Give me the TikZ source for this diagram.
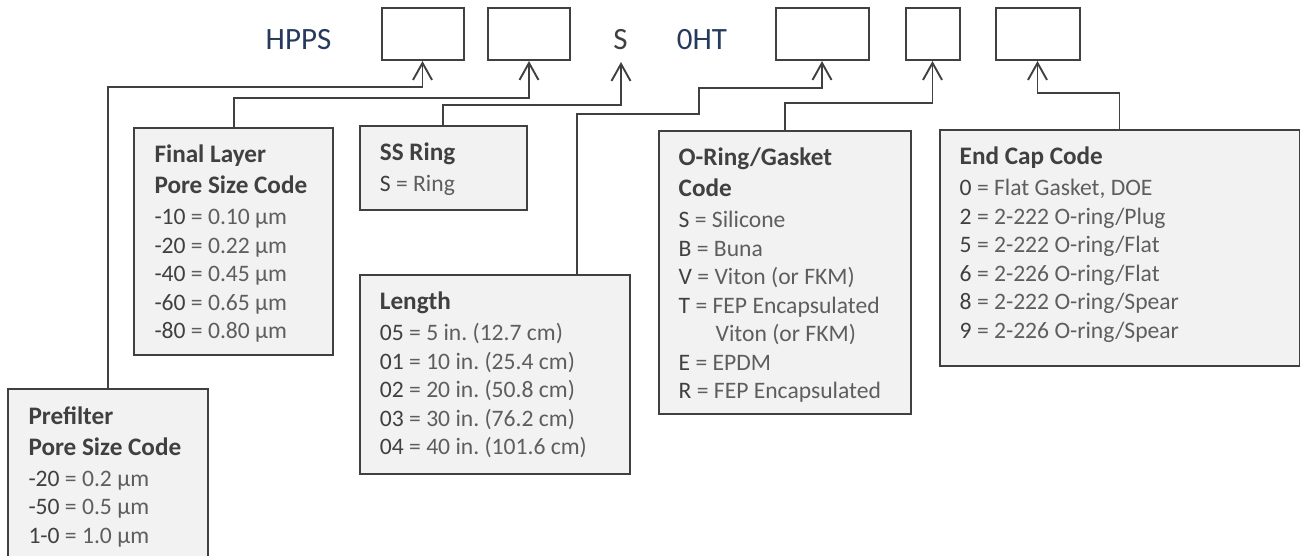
\documentclass[tikz,border=0pt]{standalone}
\usepackage{fontspec}
\setmainfont{Carlito}
\usetikzlibrary{arrows.meta,positioning}
\frenchspacing

\newcommand\keyttl[1]{{\fontsize{25.2}{28.5}\selectfont\bfseries #1}}
\newcommand\keyval[2]{#1 \textcolor{kLight}{= #2}}

\begin{document}
\begin{tikzpicture}[x=1pt,y=-1pt]
  % colors
  \definecolor{kLine}{rgb}{0.25,0.25,0.25}
  \definecolor{kFill}{rgb}{0.95,0.95,0.95}
  \definecolor{kNavy}{rgb}{0.15,0.23,0.36}
  \definecolor{kText}{rgb}{0.25,0.25,0.25}
  \definecolor{kLight}{rgb}{0.37,0.37,0.37}
  \tikzset{
    codebox/.style={draw=kLine,line width=2pt,minimum height=52pt,inner sep=0pt},
    keybox/.style={draw=kLine,fill=kFill,line width=2pt,anchor=north west,inner sep=0pt},
    keytext/.style={inner sep=0pt,align=left,text=kText,font=\fontsize{23.6}{28.5}\selectfont},
    part/.style={inner sep=0pt,anchor=base,font=\fontsize{31}{31}\selectfont},
    conn/.style={draw=kLine,line width=1.9pt,-{Straight Barb[length=17pt,width=19pt]}},
  }
  \clip (0,0) rectangle (1300,555);
  % part number
  \node[part,text=kNavy] (hpps) at (298.5,49.3) {HPPS};
  \node[part,text=kText] (sfix) at (620.6,49) {S};
  \node[part,text=kNavy] (oht) at (702,49) {0HT};
  \foreach \n/\x/\w in {1/422.5/82, 2/529/82, 3/822/93, 4/932.5/54, 5/1037.5/84}
    \node[codebox,minimum width=\w] (c\n) at (\x,34) {};
  \coordinate (stip) at (621,62);
  % key boxes
  \node[keybox,minimum width=199.4,minimum height=200] (prebox) at (7.3,388.3) {};
  \node[keytext,below right=18pt and 21pt of prebox.north west] (pretxt)
    {\keyttl{Prefilter}\\[2.5pt] \keyttl{Pore Size Code}\\[2.5pt]
     \keyval{-20}{0.2 µm}\\ \keyval{-50}{0.5 µm}\\ \keyval{1-0}{1.0 µm}};
  \node[keybox,minimum width=199,minimum height=227.6] (finbox) at (133.3,126.7) {};
  \node[keytext,below right=18pt and 21pt of finbox.north west] (fintxt)
    {\keyttl{Final Layer}\\[2.5pt] \keyttl{Pore Size Code}\\[2.5pt]
     \keyval{-10}{0.10 µm}\\ \keyval{-20}{0.22 µm}\\ \keyval{-40}{0.45 µm}\\
     \keyval{-60}{0.65 µm}\\ \keyval{-80}{0.80 µm}};
  \node[keybox,minimum width=167.3,minimum height=83.7] (ssbox) at (358.7,125) {};
  \node[keytext,below right=18pt and 21pt of ssbox.north west] (sstxt)
    {\keyttl{SS Ring}\\[2.5pt] \keyval{S}{Ring}};
  \node[keybox,minimum width=270.3,minimum height=198.5] (lenbox) at (358.7,274) {};
  \node[keytext,below right=18pt and 21pt of lenbox.north west] (lentxt)
    {\keyttl{Length}\\[2.5pt] \keyval{05}{5 in. (12.7 cm)}\\ \keyval{01}{10 in. (25.4 cm)}\\
     \keyval{02}{20 in. (50.8 cm)}\\ \keyval{03}{30 in. (76.2 cm)}\\ \keyval{04}{40 in. (101.6 cm)}};
  \node[keybox,minimum width=252.5,minimum height=283] (orbox) at (657.5,130) {};
  \node[keytext,below right=18pt and 21pt of orbox.north west] (ortxt)
    {\keyttl{O-Ring/Gasket}\\[2.5pt] \keyttl{Code}\\[2.5pt]
     \keyval{S}{Silicone}\\ \keyval{B}{Buna}\\ \keyval{V}{Viton (or FKM)}\\
     \keyval{T}{FEP Encapsulated}\\ \hspace*{37pt}\textcolor{kLight}{Viton (or FKM)}\\
     \keyval{E}{EPDM}\\ \keyval{R}{FEP Encapsulated}};
  \node[keybox,minimum width=360,minimum height=236] (endbox) at (938.5,129) {};
  \node[keytext,below right=18pt and 21pt of endbox.north west] (endtxt)
    {\keyttl{End Cap Code}\\[2.5pt] \keyval{0}{Flat Gasket, DOE}\\ \keyval{2}{2-222 O-ring/Plug}\\
     \keyval{5}{2-222 O-ring/Flat}\\ \keyval{6}{2-226 O-ring/Flat}\\
     \keyval{8}{2-222 O-ring/Spear}\\ \keyval{9}{2-226 O-ring/Spear}};
  % connectors
  \coordinate (lenout) at ([xshift=218pt]lenbox.north west);
  \draw[conn] (prebox.north) |- (c1.south |- 0,86.7) -- (c1.south);
  \draw[conn] (finbox.north) |- (c2.south |- 0,98) -- (c2.south);
  \draw[conn] (ssbox.north) |- (stip |- 0,105) -- (stip);
  \draw[conn] (lenout) |- (699,114.3) |- (c3.south |- 0,87.7) -- (c3.south);
  \draw[conn] (orbox.north) |- (c4.south |- 0,103.3) -- (c4.south);
  \draw[conn] (endbox.north) |- (c5.south |- 0,93.3) -- (c5.south);
\end{tikzpicture}
\end{document}
